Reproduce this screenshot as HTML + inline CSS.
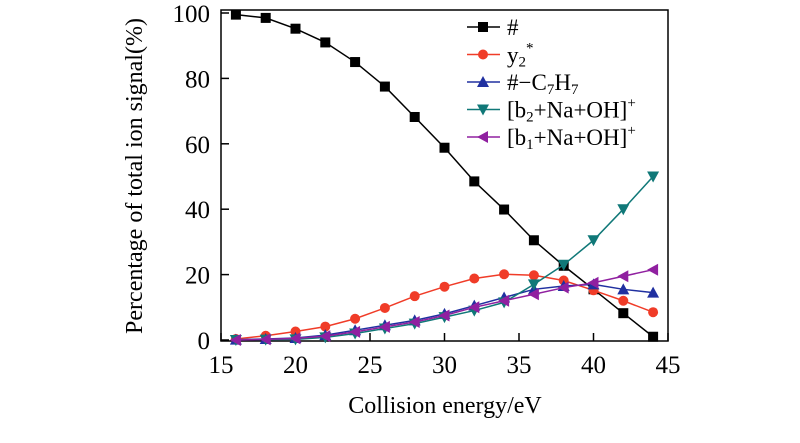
<!DOCTYPE html>
<html><head><meta charset="utf-8"><style>
body{margin:0;background:#fff;}
svg{display:block;}
svg text{font-family:"Liberation Serif","DejaVu Serif",serif;}
</style></head><body>
<svg id="chart" width="800" height="443">
<rect x="221" y="10" width="447" height="331" fill="none" stroke="#000" stroke-width="1.5"/>
<g id="ticks"></g>
<g id="series"></g>
<text x="445" y="413" font-size="24" text-anchor="middle">Collision energy/eV</text>
<text transform="translate(142,176) rotate(-90)" font-size="24" text-anchor="middle">Percentage of total ion signal(%)</text>
<g id="legend" font-size="23"></g>
</svg>
<script>
const xs=[16,18,20,22,24,26,28,30,32,34,36,38,40,42,44];
const sHash=[99.5,98.5,95.2,91,85,77.5,68.2,58.8,48.5,39.9,30.5,22.7,15.5,8.2,1];
const sY2=[0.3,1.3,2.6,4.1,6.5,9.8,13.4,16.3,18.8,20.1,19.8,18.2,15.2,12,8.5];
const sC7=[0.1,0.3,0.6,1.5,3,4.5,6,8,10.5,13,15.5,16.5,17,15.5,14.5];
const sB2=[0,0.1,0.2,0.8,2,3.5,5,7,9,11.5,17,23,30.5,40,50];
const sB1=[0,0.2,0.5,1.2,2.5,4,5.5,7.5,10,12,14,16,17.5,19.5,21.5];
const xTicks=[15,20,25,30,35,40,45];
const yTicks=[0,20,40,60,80,100];
const NS="http://www.w3.org/2000/svg";
const X=v=>221+(v-15)*447/30, Y=v=>340-v*3.27;
function el(t,a,p){const e=document.createElementNS(NS,t);for(const k in a)e.setAttribute(k,a[k]);p.appendChild(e);return e;}
const tk=document.getElementById('ticks');
xTicks.forEach(v=>{
 const l=el('line',{x1:X(v),x2:X(v),y1:341,y2:333,stroke:'#000','stroke-width':1.5},tk);
 
 
 const t=el('text',{x:X(v),y:373,'font-size':25,'text-anchor':'middle'},tk);t.textContent=v;
 
 
});
yTicks.forEach(v=>{
 const l=el('line',{x1:221,x2:229,y1:Y(v),y2:Y(v),stroke:'#000','stroke-width':1.5},tk);
 
 
 const t=el('text',{x:210,y:Y(v)+9,'font-size':25,'text-anchor':'end'},tk);t.textContent=v;
 
 
});
function marker(g,type,x,y,c){
 let e;
 if(type==='sq')e=el('rect',{x:x-5,y:y-5,width:10,height:10,fill:c},g);
 else if(type==='ci')e=el('circle',{cx:x,cy:y,r:5,fill:c},g);
 else if(type==='up')e=el('polygon',{points:`${x},${y-6} ${x-6},${y+5} ${x+6},${y+5}`,fill:c},g);
 else if(type==='dn')e=el('polygon',{points:`${x},${y+6} ${x-6},${y-5} ${x+6},${y-5}`,fill:c},g);
 else e=el('polygon',{points:`${x-6},${y} ${x+5},${y-6} ${x+5},${y+6}`,fill:c},g);
 return e;
}
const series=[
 {d:sHash,c:'#000',m:'sq',n:'hash',lab:'#'},
 {d:sY2,c:'#f03c28',m:'ci',n:'y2',lab:'y<tspan font-size="15" dy="4">2</tspan><tspan font-size="15" dy="-14">*</tspan>'},
 {d:sC7,c:'#2030a0',m:'up',n:'hash-c7h7',lab:'#−C<tspan font-size="15" dy="4">7</tspan><tspan dy="-4">H</tspan><tspan font-size="15" dy="4">7</tspan>'},
 {d:sB2,c:'#107878',m:'dn',n:'b2-na-oh',lab:'[b<tspan font-size="15" dy="4">2</tspan><tspan dy="-4">+Na+OH]</tspan><tspan font-size="15" dy="-10">+</tspan>'},
 {d:sB1,c:'#9020a0',m:'lt',n:'b1-na-oh',lab:'[b<tspan font-size="15" dy="4">1</tspan><tspan dy="-4">+Na+OH]</tspan><tspan font-size="15" dy="-10">+</tspan>'}
];
const sg=document.getElementById('series'), lg=document.getElementById('legend');
series.forEach((s,i)=>{
 const g=el('g',{},sg);
 
 
 const pl=el('polyline',{points:xs.map((x,j)=>X(x)+','+Y(s.d[j])).join(' '),fill:'none',stroke:s.c,'stroke-width':1.5},g);
 
 
 xs.forEach((x,j)=>{const m=marker(g,s.m,X(x),Y(s.d[j]),s.c);
  
  });
 const ly=27+i*27.5;
 const lgEntry=el('g',{},lg);
 
 
 el('line',{x1:467,x2:500,y1:ly,y2:ly,stroke:s.c,'stroke-width':1.5},lgEntry);
 marker(lgEntry,s.m,483,ly,s.c);
 const t=el('text',{x:507,y:ly+8},lgEntry);t.innerHTML=s.lab;
});
</script>
</body></html>
